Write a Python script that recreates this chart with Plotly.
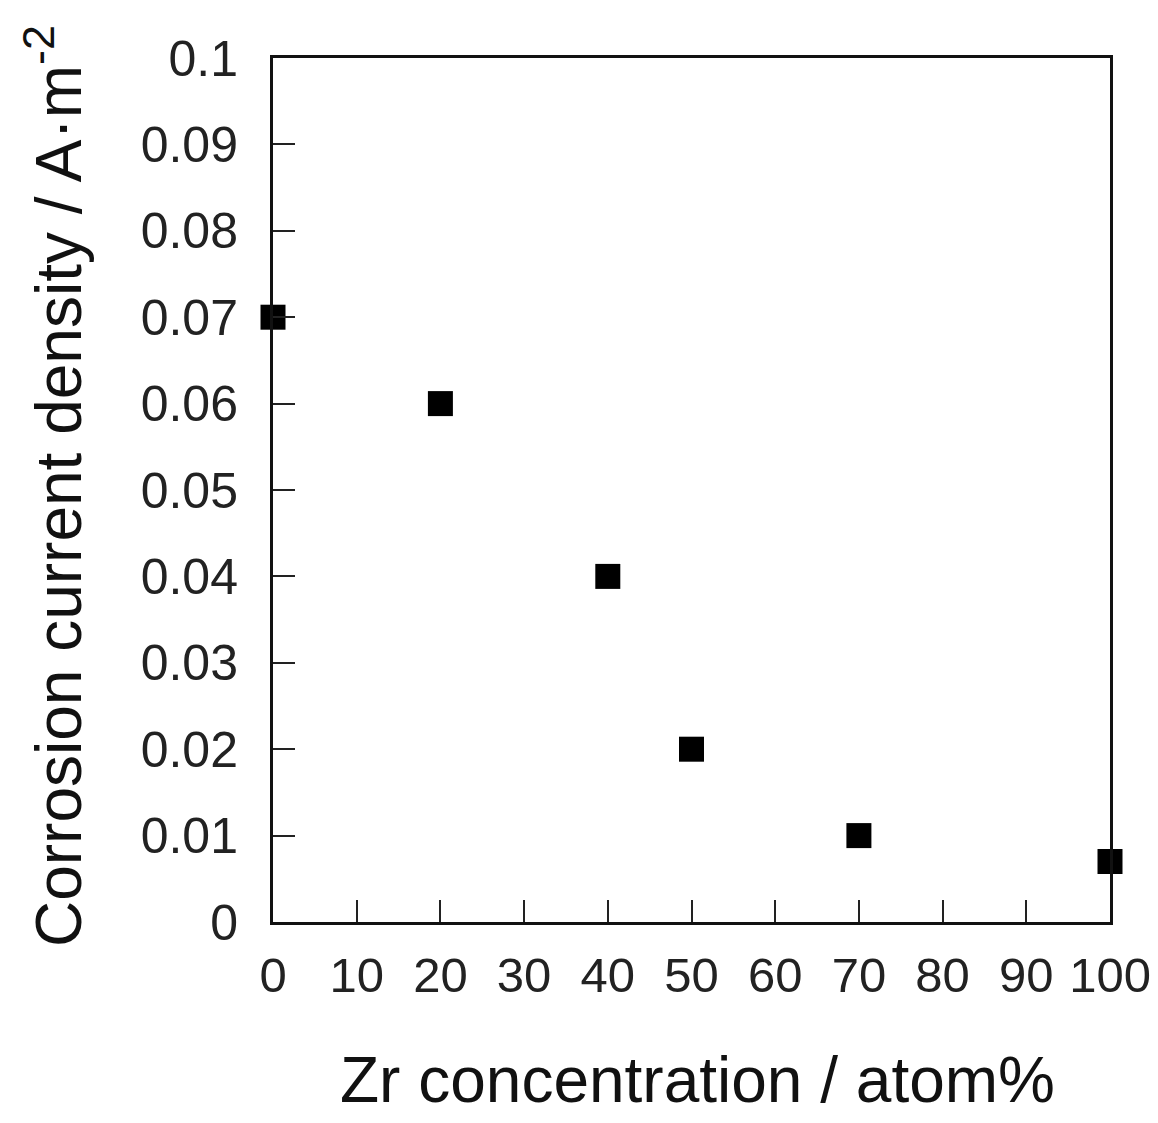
import plotly.graph_objects as go

zr_conc = [0, 20, 40, 50, 70, 100]
corrosion_density = [0.07, 0.06, 0.04, 0.02, 0.01, 0.007]
x_ticks = [0, 10, 20, 30, 40, 50, 60, 70, 80, 90, 100]
y_ticks = [0, 0.01, 0.02, 0.03, 0.04, 0.05, 0.06, 0.07, 0.08, 0.09, 0.1]
y_labels = ["0", "0.01", "0.02", "0.03", "0.04", "0.05", "0.06", "0.07", "0.08", "0.09", "0.1"]
x_title = "Zr concentration / atom%"
y_title = "Corrosion current density / A·m<sup>-2</sup>"

font_family = "Liberation Sans, Arial, sans-serif"

fig = go.Figure()
fig.add_trace(go.Scatter(
    x=zr_conc, y=corrosion_density, mode="markers",
    marker=dict(symbol="square", size=25, color="black", line=dict(width=0)),
    cliponaxis=False, showlegend=False,
))

fig.update_layout(
    width=1142, height=1107,
    margin=dict(l=265, r=40, t=50, b=193),
    plot_bgcolor="white", paper_bgcolor="white",
    font=dict(family=font_family, color="#222222", size=50),
)
fig.update_xaxes(
    range=[0, 100], tickvals=x_ticks, ticktext=[str(v) for v in x_ticks],
    ticks="inside", ticklen=22, tickwidth=1.5, tickcolor="#222",
    showline=True, linewidth=3, linecolor="#111", mirror=True,
    showgrid=False, zeroline=False, automargin=False,
    ticklabeloverflow="allow",
    tickfont=dict(size=49, color="#222"), ticklabelstandoff=8,
)
fig.update_yaxes(
    range=[0, 0.1], tickvals=y_ticks, ticktext=y_labels,
    ticks="inside", ticklen=22, tickwidth=1.5, tickcolor="#222",
    showline=True, linewidth=3, linecolor="#111", mirror=True,
    showgrid=False, zeroline=False, automargin=False,
    tickfont=dict(size=50, color="#222"), ticklabelstandoff=22,
)
fig.add_annotation(
    text=x_title, xref="paper", yref="paper", x=0.5, y=0,
    xanchor="center", yanchor="middle", xshift=6, yshift=-158,
    showarrow=False, font=dict(size=64, color="#111"),
)
fig.add_annotation(
    text=y_title, xref="paper", yref="paper", x=0, y=0.5,
    xanchor="center", yanchor="middle", xshift=-219, yshift=4,
    textangle=-90, showarrow=False, font=dict(size=64, color="#111"),
)

fig.write_html("out.html")
